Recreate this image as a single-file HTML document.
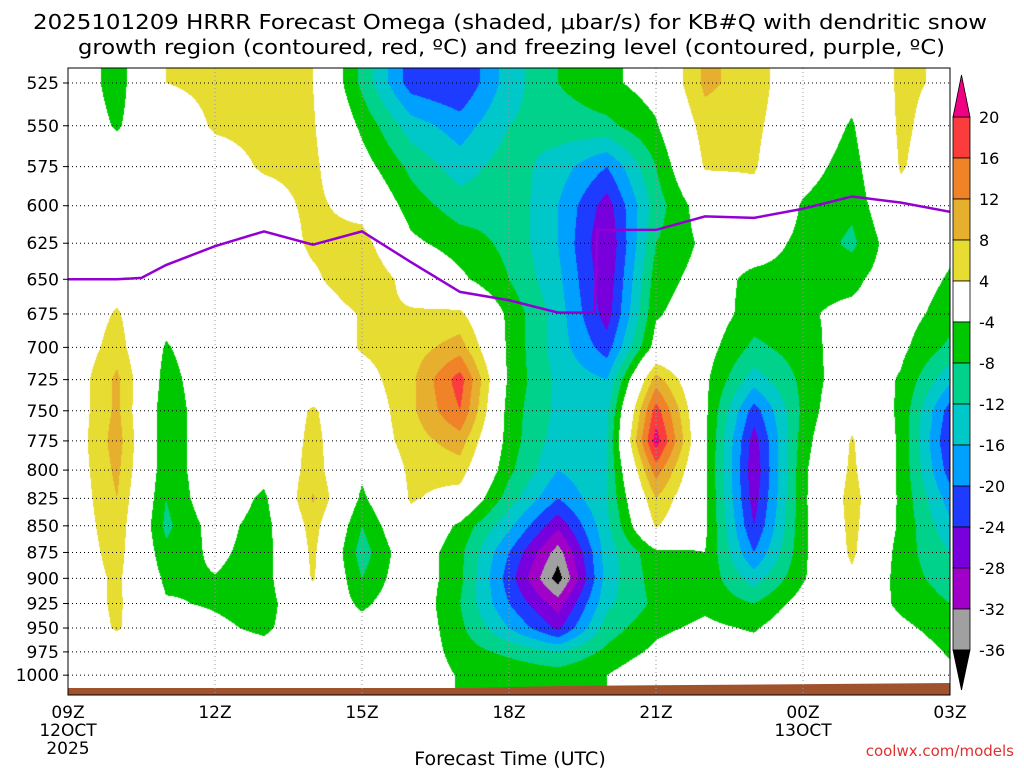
<!DOCTYPE html>
<html><head><meta charset="utf-8"><style>
body{margin:0;background:#fff;width:1024px;height:768px;overflow:hidden;font-family:"DejaVu Sans","Liberation Sans",sans-serif}
#wrap{position:relative;width:1024px;height:768px}
canvas{position:absolute;left:68px;top:68px}
svg{position:absolute;left:0;top:0;font-family:"DejaVu Sans","Liberation Sans",sans-serif}
</style></head><body><div id="wrap">
<canvas id="cv" width="882" height="627"></canvas>
<svg id="sv" width="1024" height="768"></svg>
</div>
<script>
const levels=[525,550,575,600,625,650,675,700,725,750,775,800,825,850,875,900,925,950,975,1000];
const hourLabels=["09Z","12Z","15Z","18Z","21Z","00Z","03Z"];
const hourTicks=[0,3,6,9,12,15,18];
const omega=[
[0,0,0,0,0,0,0,0,0,0,0,0,0,0,0,0,0,0,0,0],
[-6,-4.5,-1,0,0,2,4.5,6,9,9,10,9,8,7,6,5,5,4.5,1,0],
[4,1,0,0,0,0,-2,-4.5,-6,-7,-7,-7,-8,-9,-7,-5,-3.5,-1,0,0],
[5,4.5,2,0,0,0,0,0,0,0,0,0,0,-2,-3,-4.2,-4.5,-3,-1,0],
[5,5,4.5,2,0,0,0,0,0,0,0,-2,-5,-6,-6,-6,-6,-5,-2,0],
[4,4.5,5,5,5,3,0,0,1,4.5,5,6,8.5,6,5,4.5,1,0,0,0],
[-9,-5,-2,2,6,8,4.5,4.5,2,0,0,-3,-5,-8,-10,-8,-5,-2,0,0],
[-22,-14,-9,-6,-3,2,4.5,6,7,7,6,5,4.5,2,0,0,0,0,0,0],
[-24,-18,-14,-10,-6,-3,5,10,18,16,10,6,2,-5,-7,-7,-8,-7,-6,-4.5],
[-14,-12,-10,-9,-9,-8,-5,-5,-5,-6,-6,-7,-10,-15,-20,-22,-20,-16,-9,-5],
[-8,-10,-14,-16,-16,-15,-14,-14,-13,-13,-14,-16,-20,-27,-34,-38,-30,-25,-12,-6],
[-5,-9,-20,-26,-28,-27,-26,-22,-16,-13,-12,-12,-12,-13,-14,-14,-13,-10,-7,-4],
[-2,-4.5,-8,-10,-8,-6,-4.5,-2,10,18,22,14,8,4.5,-5,-6,-7,-5,-3,0],
[9,6,4.5,-1,-3,-2,-1,-2,-3,-3,-3,-3,-3,-3,-4,-5,-5,-3,-1,0],
[6,5,4.5,2,-2,-5,-6,-9,-14,-22,-26,-27,-26,-24,-20,-14,-8,-4.5,-2,0],
[0,0,-2,-4.5,-5,-5,-4.5,-6,-7,-7,-6,-5,-5,-5,-5,-4.5,-2,0,0,0],
[-2,-4.5,-6,-7,-9,-5,-3,-1,0,2,4.5,5,6,5.5,5,3,0,0,0,0],
[5,5,4.5,2,0,-1,-2,-3,-4.5,-5,-5,-5,-5,-5,-6,-6,-5,-3,-1,0],
[3,1,0,-2,-3,-4.5,-6,-9,-15,-22,-24,-22,-18,-15,-12,-10,-8,-6,-4.5,-3]
];
const fzHours=[0,1,1.5,2,3,4,5,6,7,8,9,10,10.75,10.8,12,13,14,15,16,17,18];
const fzPres=[650,650,649,640,627,617,626,617,638,659,665,674,674,616,616,607,608,602,594,598,604];
const bounds=[-36,-32,-28,-24,-20,-16,-12,-8,-4,4,8,12,16,20];
const colors=["#000000","#a0a0a0","#a000c8","#7800dc","#1e3cff","#00a0ff","#00c8c8","#00d28c","#00c800","#ffffff","#e6dc32","#e6af2d","#f08228","#fa3c3c","#f00082"];
const cbLabels=["20","16","12","8","4","-4","-8","-12","-16","-20","-24","-28","-32","-36"];

const X0=68,X1=950,Y0=68,Y1=695;
const xOf=h=>X0+(X1-X0)*h/18;
const yOf=p=>83+919*Math.log(p/525);
function hex(c){return[parseInt(c.slice(1,3),16),parseInt(c.slice(3,5),16),parseInt(c.slice(5,7),16)];}
const rgb=colors.map(hex);
const cv=document.getElementById('cv'),ctx=cv.getContext('2d');
const W=cv.width,H=cv.height,img=ctx.createImageData(W,H);
for(let py=0;py<H;py++){
  const y=py+Y0+0.5;const p=525*Math.exp((y-83)/919);
  let li=(p-levels[0])/(levels[1]-levels[0]);li=Math.max(0,Math.min(levels.length-1.0001,li));
  const i0=Math.floor(li),fy=li-i0;
  for(let px=0;px<W;px++){
    let h=(px+0.5)*18/(X1-X0);h=Math.max(0,Math.min(17.9999,h));
    const j0=Math.floor(h),fx=h-j0;
    const v=(omega[j0][i0]*(1-fx)+omega[j0+1][i0]*fx)*(1-fy)+(omega[j0][i0+1]*(1-fx)+omega[j0+1][i0+1]*fx)*fy;
    let k=0;while(k<bounds.length&&v>=bounds[k])k++;
    const c=rgb[k],o=(py*W+px)*4;img.data[o]=c[0];img.data[o+1]=c[1];img.data[o+2]=c[2];img.data[o+3]=255;
  }
}
ctx.putImageData(img,0,0);
const NS="http://www.w3.org/2000/svg",sv=document.getElementById('sv');
function el(t,a,txt){const e=document.createElementNS(NS,t);for(const k in a)e.setAttribute(k,a[k]);if(txt!==undefined)e.textContent=txt;sv.appendChild(e);return e;}
const gr=el('polygon',{points:`${X0},688 470,688 560,686 950,683 950,695 ${X0},695`,fill:'#a0522d'});


levels.forEach(p=>{const y=yOf(p);
  const g=el('line',{x1:X0,x2:X1,y1:y,y2:y,stroke:'#000','stroke-width':1,'stroke-dasharray':'1,3'});
  
  
  const t=el('text',{x:59,y:y+6,'text-anchor':'end','font-size':17,fill:'#000'},String(p));
  
  
  const tk=el('line',{x1:X0-5,x2:X0,y1:y,y2:y,stroke:'#000'});
  
  
});
hourTicks.forEach((h,i)=>{const x=xOf(h);
  if(i>0&&i<6){const g=el('line',{x1:x,x2:x,y1:Y0,y2:Y1,stroke:'#999','stroke-width':1,'stroke-dasharray':'1,3'});
  
  }
  const t=el('text',{x:x,y:718,'text-anchor':'middle','font-size':17},hourLabels[i]);
  
  
});
const fz=el('polyline',{points:fzHours.map((h,i)=>xOf(h)+','+yOf(fzPres[i])).join(' '),fill:'none',stroke:'#9400d3','stroke-width':2.5});


const fr=el('rect',{x:X0,y:Y0,width:X1-X0,height:Y1-Y0,fill:'none',stroke:'#000','stroke-width':1});


[[X0,736,"12OCT"],[X0,754,"2025"],[xOf(15),736,"13OCT"]].forEach(d=>{
  const t=el('text',{x:d[0],y:d[1],'text-anchor':'middle','font-size':17},d[2]);
  
  
});
let t=el('text',{x:510,y:765,'text-anchor':'middle','font-size':19},"Forecast Time (UTC)");


t=el('text',{x:1014,y:756,'text-anchor':'end','font-size':15,fill:'#e03030'},"coolwx.com/models");


t=el('text',{x:33,y:29,'font-size':20,textLength:954,lengthAdjust:'spacingAndGlyphs'},"2025101209 HRRR Forecast Omega (shaded, \u03bcbar/s) for KB#Q with dendritic snow");


t=el('text',{x:78,y:54,'font-size':20,textLength:867,lengthAdjust:'spacingAndGlyphs'},"growth region (contoured, red, \u00baC) and freezing level (contoured, purple, \u00baC)");


const cx=953,cw=17,ctop=117,step=41.0;
for(let i=0;i<13;i++){
  const c=colors[13-i];
  const r=el('rect',{x:cx,y:ctop+i*step,width:cw,height:step,fill:c,stroke:'#000','stroke-width':0.8});
  
  
}
let tri=el('polygon',{points:`${cx},${ctop} ${cx+cw},${ctop} ${cx+cw/2},75`,fill:colors[14],stroke:'#000','stroke-width':0.8});


const cbot=ctop+13*step;
tri=el('polygon',{points:`${cx},${cbot} ${cx+cw},${cbot} ${cx+cw/2},690`,fill:colors[0],stroke:'#000','stroke-width':0.8});


cbLabels.forEach((s,i)=>{
  const l=el('text',{x:979,y:ctop+i*step+6,'font-size':16},s);
  
  
});
</script></body></html>
